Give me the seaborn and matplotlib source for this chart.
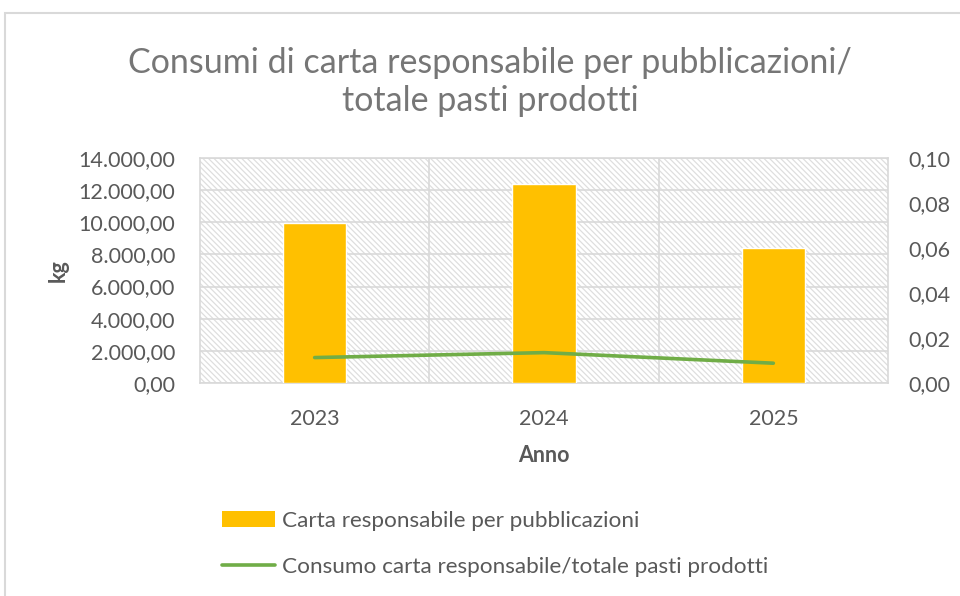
import matplotlib
matplotlib.use("Agg")
import matplotlib.pyplot as plt
import matplotlib.patches as mpatches
from matplotlib.lines import Line2D
from matplotlib.ticker import FuncFormatter, MultipleLocator
import seaborn as sns
import pandas as pd

# ── Dati ─────────────────────────────────────────────────────
anni = ["2023", "2024", "2025"]
carta_kg = [9950, 12400, 8400]
consumo_per_pasto = [0.0113, 0.0135, 0.0088]

label_barre = "Carta responsabile per pubblicazioni"
label_linea = "Consumo carta responsabile/totale pasti prodotti"

df = pd.DataFrame({"Anno": anni, "kg": carta_kg, "rapporto": consumo_per_pasto})

# ── Stile ────────────────────────────────────────────────────
sns.set_style("white")
plt.rcParams["font.family"] = ["Lato", "DejaVu Sans"]
plt.rcParams["hatch.color"] = "#dedede"
plt.rcParams["hatch.linewidth"] = 0.9

GRIGIO = "#595959"
GIALLO = "#ffc000"
VERDE = "#70ad47"
FS = 15.5


def fmt_it(dec):
    def f(v, pos):
        s = f"{v:,.{dec}f}"
        return s.replace(",", "X").replace(".", ",").replace("X", ".")
    return FuncFormatter(f)


fig = plt.figure(figsize=(9.6, 5.96), dpi=100)
fig.patches.append(mpatches.Rectangle((5 / 960, -0.05), 1.1, 1 - 13 / 596 + 0.05,
                                      transform=fig.transFigure, fill=False,
                                      edgecolor="#d9d9d9", linewidth=1.5))

ax = fig.add_axes([200 / 960, (596 - 383) / 596, 688 / 960, 225 / 596])

# sfondo tratteggiato
ax.add_patch(mpatches.Rectangle((0, 0), 1, 1, transform=ax.transAxes,
                                facecolor="white", hatch="\\" * 6,
                                edgecolor="#dedede", linewidth=0, zorder=0))

sns.barplot(data=df, x="Anno", y="kg", color=GIALLO, width=0.275,
            saturation=1, ax=ax, zorder=3)
ax.set_xlim(-0.5, 2.5)
ax.set_ylim(0, 14000)
ax.yaxis.set_major_locator(MultipleLocator(2000))
ax.yaxis.set_major_formatter(fmt_it(2))
ax.set_xticks([0.5, 1.5], minor=True)
ax.grid(True, which="major", axis="y", color="#d9d9d9", linewidth=1.2, zorder=1)
ax.grid(True, which="minor", axis="x", color="#d9d9d9", linewidth=1.2, zorder=1)
ax.set_axisbelow(False)
for s in ax.spines.values():
    s.set_color("#d9d9d9")
    s.set_linewidth(1.2)
ax.tick_params(axis="y", which="both", length=0, labelsize=FS, colors=GRIGIO, pad=18)
ax.tick_params(axis="x", which="both", length=0, labelsize=FS, colors=GRIGIO, pad=19)
ax.set_xlabel("Anno", fontsize=FS, fontweight="bold", color=GRIGIO, labelpad=11)
ax.set_ylabel("kg", fontsize=FS, fontweight="bold", color=GRIGIO, labelpad=7)

ax2 = ax.twinx()
sns.pointplot(data=df, x="Anno", y="rapporto", color=VERDE, markers="",
              linewidth=2.6, ax=ax2)
ax2.set_ylim(0, 0.10)
ax2.yaxis.set_major_locator(MultipleLocator(0.02))
ax2.yaxis.set_major_formatter(fmt_it(2))
ax2.set_ylabel("")
ax2.tick_params(axis="y", length=0, labelsize=FS, colors=GRIGIO, pad=15)
for s in ax2.spines.values():
    s.set_visible(False)

fig.text(490 / 960, 1 - 82 / 596,
         "Consumi di carta responsabile per pubblicazioni/\ntotale pasti prodotti",
         ha="center", va="center", fontsize=24.5, color="#767676", linespacing=1.25)

handles = [mpatches.Patch(facecolor=GIALLO, edgecolor="none"),
           Line2D([0], [0], color=VERDE, linewidth=2.6)]
fig.legend(handles, [label_barre, label_linea], loc="upper left",
           bbox_to_anchor=(222 / 960, 1 - 511 / 596), frameon=False,
           borderpad=0, borderaxespad=0,
           fontsize=16.2, labelcolor=GRIGIO, handlelength=2.35, handletextpad=0.33,
           labelspacing=1.15, handleheight=0.7)

fig.savefig("out.png", dpi=100)
